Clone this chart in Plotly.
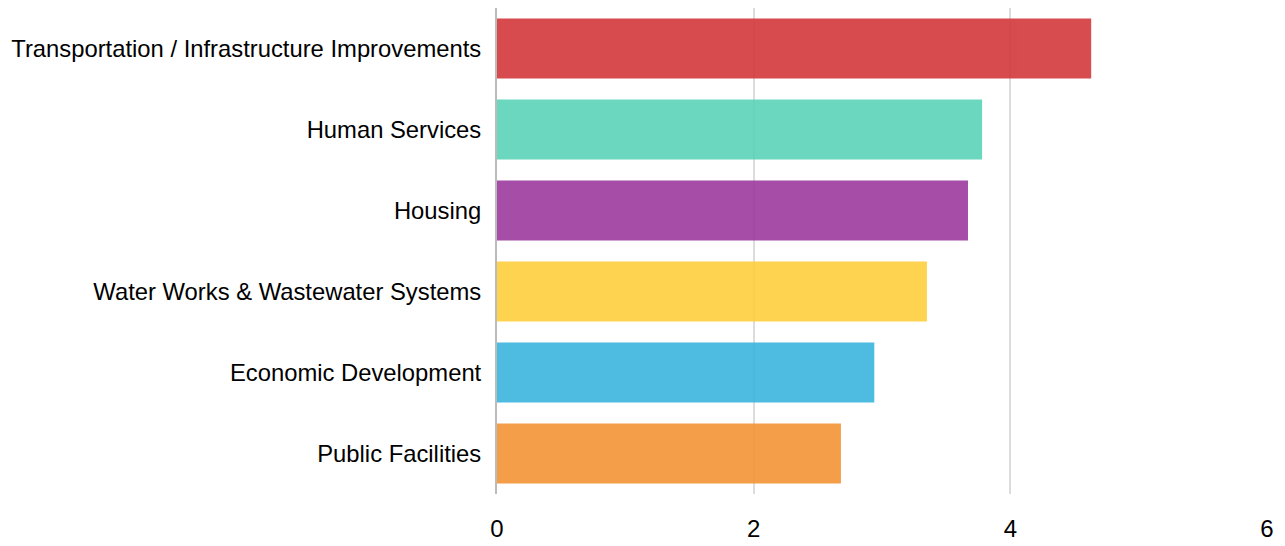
import plotly.graph_objects as go

categories = [
    "Transportation / Infrastructure Improvements",
    "Human Services",
    "Housing",
    "Water Works & Wastewater Systems",
    "Economic Development",
    "Public Facilities",
]
values = [4.63, 3.78, 3.67, 3.35, 2.94, 2.68]
colors = ["#d3383b", "#5cd3b8", "#9c3a9e", "#fecf3c", "#3bb4de", "#f59437"]
tick_vals = [0, 2, 4, 6]
tick_text = ["0", "2", "4", "6"]

fig = go.Figure(
    go.Bar(
        x=values,
        y=categories,
        orientation="h",
        marker=dict(color=colors, line=dict(width=0)),
        opacity=0.9,
        width=0.74,
        hoverinfo="x+y",
    )
)

fig.update_layout(
    width=1285,
    height=546,
    margin=dict(l=497, r=18, t=8, b=52, autoexpand=False),
    plot_bgcolor="white",
    paper_bgcolor="white",
    font=dict(family="Liberation Sans, Arial, sans-serif", size=24, color="#000"),
    showlegend=False,
    bargap=0.26,
)
fig.update_xaxes(
    range=[0, 6],
    tickvals=tick_vals,
    ticktext=tick_text,
    showgrid=True,
    gridcolor="#dcdcdc",
    gridwidth=2,
    zeroline=False,
    showline=False,
    ticks="",
    ticklabelstandoff=18,
    automargin=False,
    tickfont=dict(size=24),
)
fig.update_yaxes(
    autorange="reversed",
    showgrid=False,
    showline=True,
    linecolor="#bbbbbb",
    linewidth=2,
    ticks="",
    ticklabelstandoff=9,
    automargin=False,
    tickfont=dict(size=23.8),
)

fig.write_html(
    "out.html",
    config={"displayModeBar": False},
    post_script="document.body.style.margin='0';document.body.style.padding='0';",
)
